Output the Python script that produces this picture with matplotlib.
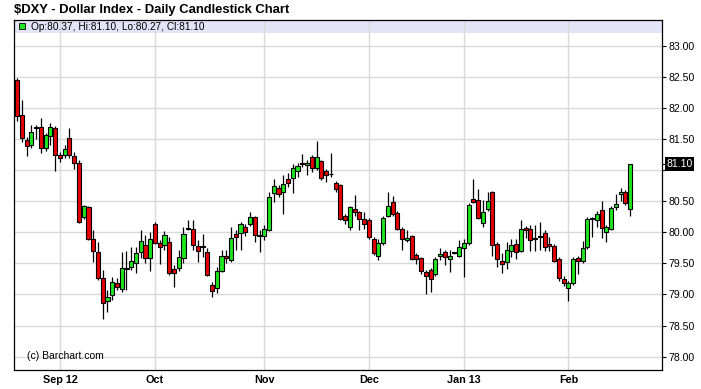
import numpy as np
import matplotlib.pyplot as plt
import matplotlib.transforms as mtransforms

plt.rcParams['font.family'] = ['Liberation Sans', 'DejaVu Sans']

# Daily OHLC for $DXY, one value per trading day
opens = [82.45, 81.88, 81.48, 81.41, 81.68, 81.69, 81.35, 81.55, 81.67, 81.25,
         81.24, 81.51, 81.23, 81.12, 80.25, 80.40, 79.90, 79.69, 79.26, 78.90,
         78.99, 79.19, 79.09, 79.42, 79.44, 79.50, 79.69, 79.79, 79.58, 80.13,
         79.82, 79.79, 79.84, 79.41, 79.42, 79.58, 80.07, 80.06, 79.78, 79.78,
         79.68, 79.15, 79.11, 79.38, 79.62, 79.55, 79.97, 79.99, 80.09, 80.13,
         80.24, 79.96, 79.94, 80.04, 80.63, 80.71, 80.65, 80.85, 80.87, 80.99,
         81.11, 81.08, 81.21, 81.03, 81.15, 80.99, 80.94, 80.80, 80.76, 80.27,
         80.09, 80.37, 80.33, 80.21, 80.20, 79.90, 79.62, 79.82, 80.27, 80.49,
         80.31, 80.06, 79.88, 79.94, 79.63, 79.59, 79.36, 79.39, 79.33, 79.62,
         79.69, 79.57, 79.67, 79.62, 79.75, 79.82, 80.53, 80.52, 80.15, 80.38,
         80.65, 79.81, 79.54, 79.52, 79.70, 79.81, 79.70, 80.07, 80.05, 79.90,
         79.93, 79.99, 79.81, 79.78, 79.57, 79.25, 79.10, 79.19, 79.59, 79.54,
         79.76, 80.21, 80.20, 80.36, 80.01, 80.06, 80.40, 80.61, 80.64, 80.37]
highs = [82.48, 82.12, 81.54, 81.72, 81.72, 81.83, 81.60, 81.76, 81.71, 81.29,
         81.40, 81.67, 81.29, 81.16, 80.44, 80.42, 80.03, 79.85, 79.39, 79.07,
         79.28, 79.26, 79.69, 79.70, 79.77, 79.77, 80.04, 79.96, 80.01, 80.17,
         79.87, 80.02, 79.92, 79.47, 79.71, 80.08, 80.20, 80.20, 79.87, 79.98,
         79.74, 79.20, 79.45, 79.71, 79.71, 80.08, 80.04, 80.17, 80.14, 80.33,
         80.26, 80.04, 80.12, 80.64, 80.85, 80.76, 80.92, 80.95, 81.10, 81.11,
         81.26, 81.16, 81.24, 81.46, 81.17, 81.02, 81.27, 80.83, 80.78, 80.30,
         80.42, 80.60, 80.35, 80.33, 80.23, 79.92, 79.90, 80.27, 80.65, 80.58,
         80.34, 80.09, 80.03, 79.96, 79.66, 79.61, 79.39, 79.42, 79.60, 79.74,
         79.72, 79.71, 79.69, 79.87, 79.90, 80.47, 80.86, 80.70, 80.52, 80.65,
         80.67, 79.84, 79.66, 79.84, 79.89, 79.89, 80.19, 80.10, 80.11, 80.12,
         80.16, 80.03, 79.92, 79.81, 79.61, 79.29, 79.21, 79.60, 79.62, 79.86,
         80.24, 80.24, 80.35, 80.50, 80.12, 80.42, 80.61, 80.72, 80.68, 81.10]
lows = [81.79, 81.45, 81.23, 81.36, 81.50, 81.27, 81.30, 81.40, 80.98, 81.13,
        81.19, 81.20, 81.02, 80.15, 80.22, 79.88, 79.53, 79.24, 78.61, 78.72,
        78.91, 79.07, 79.04, 79.07, 79.40, 79.34, 79.58, 79.50, 79.38, 79.81,
        79.49, 79.71, 79.32, 79.12, 79.37, 79.50, 80.04, 79.71, 79.53, 79.61,
        79.30, 78.96, 79.02, 79.36, 79.50, 79.52, 79.71, 79.71, 79.94, 80.10,
        79.85, 79.69, 79.88, 80.02, 80.49, 80.57, 80.29, 80.73, 80.63, 80.89,
        81.05, 80.92, 80.97, 81.00, 80.84, 80.81, 80.89, 80.64, 80.19, 80.13,
        80.03, 80.26, 80.04, 80.06, 79.90, 79.63, 79.56, 79.80, 80.25, 80.27,
        80.03, 79.72, 79.84, 79.56, 79.49, 79.33, 79.01, 79.04, 79.30, 79.55,
        79.47, 79.36, 79.65, 79.60, 79.28, 79.79, 80.47, 80.21, 80.09, 80.35,
        79.62, 79.45, 79.34, 79.41, 79.61, 79.57, 79.68, 79.91, 79.70, 79.70,
        79.72, 79.70, 79.70, 79.52, 79.22, 79.14, 78.90, 79.15, 79.33, 79.51,
        79.73, 79.93, 80.08, 79.91, 79.84, 80.04, 80.36, 80.51, 80.44, 80.27]
closes = [81.87, 81.52, 81.38, 81.62, 81.67, 81.36, 81.56, 81.70, 81.25, 81.19,
          81.34, 81.24, 81.12, 80.17, 80.42, 79.90, 79.70, 79.26, 78.87, 78.96,
          79.20, 79.12, 79.43, 79.41, 79.54, 79.66, 79.86, 79.58, 79.90, 79.83,
          79.76, 79.95, 79.34, 79.34, 79.61, 79.98, 80.06, 79.79, 79.70, 79.76,
          79.32, 79.05, 79.37, 79.62, 79.58, 79.91, 79.93, 80.13, 80.00, 80.24,
          79.95, 79.94, 80.05, 80.56, 80.75, 80.62, 80.77, 80.79, 81.04, 81.06,
          81.10, 81.12, 81.04, 81.21, 80.87, 80.92, 80.93, 80.69, 80.22, 80.19,
          80.40, 80.32, 80.21, 80.14, 79.92, 79.67, 79.82, 80.23, 80.43, 80.30,
          80.06, 79.90, 79.91, 79.57, 79.57, 79.37, 79.30, 79.25, 79.57, 79.65,
          79.61, 79.62, 79.67, 79.77, 79.82, 80.44, 80.49, 80.23, 80.32, 80.50,
          79.79, 79.57, 79.49, 79.72, 79.79, 79.68, 80.05, 80.04, 79.87, 79.89,
          79.92, 79.76, 79.78, 79.54, 79.26, 79.19, 79.18, 79.57, 79.54, 79.75,
          80.21, 80.22, 80.29, 80.07, 80.09, 80.39, 80.46, 80.64, 80.47, 81.10]

# month gridlines sit on the first trading day of each month (index into the series)
month_pos = [9, 29, 52, 74, 94, 116]
month_labels = ['Sep 12', 'Oct', 'Nov', 'Dec', 'Jan 13', 'Feb']
price_ticks = np.arange(78.0, 83.01, 0.5)

up_color = '#1fe61f'
down_color = '#e80000'

o = np.array(opens)
h = np.array(highs)
l = np.array(lows)
c = np.array(closes)
x = np.arange(len(o))

fig = plt.figure(figsize=(7.01, 3.89), dpi=100)
W, H = 701, 389
ax = fig.add_axes([14 / W, 1 - 370 / H, 648 / W, 350 / H])

# y scale: 83.00 at 45.7px, 78.00 at 356.7px
px_per_unit = 62.2
y_top = 83.0 + (45.7 - 20) / px_per_unit
y_bot = 83.0 - (370 - 45.7) / px_per_unit
ax.set_ylim(y_bot, y_top)
ax.set_xlim(-0.67, 135.7)

# wicks and bodies
ax.vlines(x, l, h, color='black', linewidth=0.9, zorder=2)
bottoms = np.minimum(o, c)
heights = np.maximum(np.abs(c - o), 0.015)
colors = [up_color if cc > oo else down_color for oo, cc in zip(o, c)]
ax.bar(x, heights, bottom=bottoms, width=0.86, color=colors,
       edgecolor='black', linewidth=0.8, zorder=3)

# grid
ax.set_axisbelow(True)
ax.grid(True, color='#d9d9d9', linewidth=1.0)

# header band with last bar info
band_bottom = 83.0 - (33 - 45.7) / px_per_unit
ax.axhspan(band_bottom, y_top, color='#e4e4f8', zorder=0.2, linewidth=0)
ax.plot([0.0125], [0.982], marker='s', markersize=4.8, markerfacecolor=up_color,
        markeredgecolor='black', markeredgewidth=0.6, transform=ax.transAxes,
        clip_on=False, zorder=4)
info = 'Op:%.2f, Hi:%.2f, Lo:%.2f, Cl:%.2f' % (o[-1], h[-1], l[-1], c[-1])
ax.text(0.026, 0.981, info, transform=ax.transAxes, fontsize=7.3,
        va='center', ha='left', zorder=4)

# axes
ax.yaxis.tick_right()
ax.set_yticks(price_ticks)
ax.set_yticklabels(['' if abs(v - 81.0) < 1e-6 else '%.2f' % v for v in price_ticks])
ax.tick_params(axis='y', labelsize=7.6, length=3, width=0.8, pad=1.5, direction='out')
ax.set_xticks(month_pos)
ax.set_xticklabels(month_labels, fontweight='bold', fontsize=7.8)
ax.tick_params(axis='x', length=0, pad=3.5)
for s in ax.spines.values():
    s.set_linewidth(0.9)
    s.set_color('black')

# last close marker on the price axis
trans = mtransforms.blended_transform_factory(ax.transAxes, ax.transData)
ax.plot([1.0, 1.0 + 3 / 648], [c[-1], c[-1]], color='black', linewidth=0.8,
        transform=trans, clip_on=False)
ax.text(1.0 + 4.5 / 648, c[-1], '%.2f' % c[-1], transform=trans, fontsize=7.6,
        color='white', va='center', ha='left',
        bbox=dict(facecolor='black', edgecolor='none', pad=1.2))

ax.text(0.02, 0.04, '(c) Barchart.com', transform=ax.transAxes, fontsize=7.5,
        va='center', ha='left')

fig.text(14 / W, 1 - 9.5 / H, '$DXY - Dollar Index - Daily Candlestick Chart',
         fontsize=9.4, fontweight='bold', va='center', ha='left')

fig.savefig('out.png', dpi=100)
plt.close()
